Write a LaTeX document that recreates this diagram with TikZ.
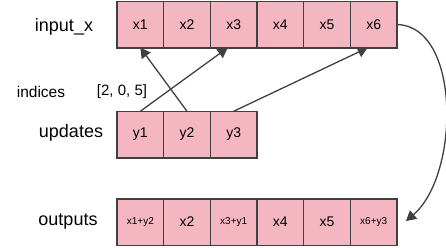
\documentclass[tikz,border=0pt]{standalone}
\usepackage{fontspec}
\setmainfont{Liberation Sans}
\usetikzlibrary{arrows.meta}
\definecolor{cellpink}{HTML}{F4B6C0}
\definecolor{edgegray}{HTML}{404040}
\begin{document}
\begin{tikzpicture}[x=1pt,y=-1pt,
  cell/.style={draw=edgegray,line width=1.5pt,fill=cellpink,minimum width=46.67pt,minimum height=46.5pt,inner sep=0pt,outer sep=0pt,font=\fontsize{14}{16}\selectfont},
  small/.style={font=\fontsize{10}{12}\selectfont},
  rowlabel/.style={font=\fontsize{18}{20}\selectfont,inner sep=0pt},
  conn/.style={draw=edgegray,line width=1.3pt,-{Triangle[length=10pt,width=11pt]}}]
\useasboundingbox (0,0) rectangle (446,247);
% input row
\node[cell] (x1) at (140.33,24.5) {x1};
\node[cell] (x2) at (187,24.5) {x2};
\node[cell] (x3) at (233.67,24.5) {x3};
\node[cell] (x4) at (280.33,24.5) {x4};
\node[cell] (x5) at (327,24.5) {x5};
\node[cell] (x6) at (373.67,24.5) {x6};
% updates row
\node[cell] (y1) at (140.33,134.5) {y1};
\node[cell] (y2) at (187,134.5) {y2};
\node[cell] (y3) at (233.67,134.5) {y3};
% outputs row
\node[cell,small] (o1) at (140.33,222) {x1+y2};
\node[cell] (o2) at (187,222) {x2};
\node[cell,small] (o3) at (233.67,222) {x3+y1};
\node[cell] (o4) at (280.33,222) {x4};
\node[cell] (o5) at (327,222) {x5};
\node[cell,small] (o6) at (373.67,222) {x6+y3};
% labels
\node[rowlabel] (lin) at (64,27) {input\_x};
\node[rowlabel] (lup) at (71,133) {updates};
\node[rowlabel] (lout) at (68,222) {outputs};
\node[font=\fontsize{15.5}{18}\selectfont,inner sep=0pt] (lind) at (41,92) {indices};
\node[font=\fontsize{15}{18}\selectfont,inner sep=0pt] (lidx) at (122,92) {[2, 0, 5]};
% arrows
\draw[conn] (y1.north) -- ([xshift=-6pt]x3.south);
\draw[conn] (y2.north) -- (x1.south);
\draw[conn] (y3.north) -- ([xshift=-6pt]x6.south);
\coordinate (tip) at (406,221);
\draw[conn] (x6.east) .. controls (461,26) and (460,175) .. (tip);
\end{tikzpicture}
\end{document}
